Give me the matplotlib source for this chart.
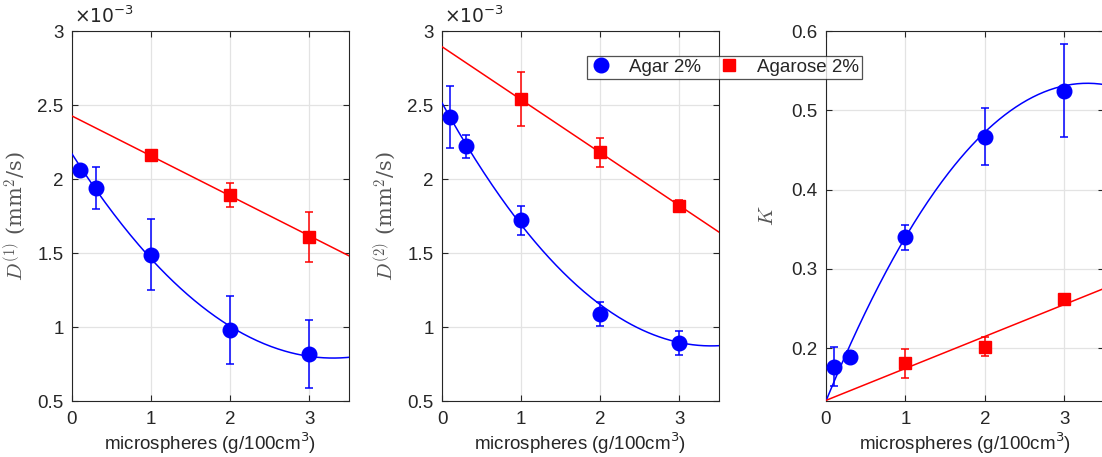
import numpy as np
import matplotlib
matplotlib.use("Agg")
from matplotlib import pyplot as plt
from matplotlib.lines import Line2D
from matplotlib.ticker import FuncFormatter

# data (D values in units of 1e-3 mm^2/s)
agar_x = [0.1, 0.3, 1, 2, 3]
agarose_x = [1, 2, 3]

d1_agar = [2.06, 1.94, 1.49, 0.98, 0.82]
d1_agar_err = [0.02, 0.14, 0.24, 0.23, 0.23]
d1_agarose = [2.16, 1.89, 1.61]
d1_agarose_err = [0.03, 0.08, 0.17]

d2_agar = [2.42, 2.22, 1.72, 1.09, 0.89]
d2_agar_err = [0.21, 0.075, 0.10, 0.08, 0.08]
d2_agarose = [2.54, 2.18, 1.82]
d2_agarose_err = [0.18, 0.10, 0.04]

k_agar = [0.177, 0.189, 0.340, 0.467, 0.525]
k_agar_err = [0.024, 0.008, 0.016, 0.036, 0.059]
k_agarose = [0.181, 0.202, 0.262]
k_agarose_err = [0.018, 0.012, 0.005]

# fitted polynomial coefficients (highest power first)
d1_agar_fit = [0.1267, -0.8362, 2.170]
d1_agarose_fit = [-0.27, 2.426]
d2_agar_fit = [0.142, -0.9656, 2.514]
d2_agarose_fit = [-0.358, 2.894]
k_agar_fit = [-0.037, 0.2435, 0.1335]
k_agarose_fit = [0.0403, 0.1343]

xlim = (0, 3.5)
fit_x = np.linspace(xlim[0], xlim[1], 200)

font = {"size": 13, "family": "Liberation Sans"}
matplotlib.rc("font", **font)
dark = "#262626"

fig = plt.figure(figsize=(11.02, 4.57), dpi=100)
ax01 = fig.add_axes([0.0653, 0.1225, 0.2514, 0.8096])
ax02 = fig.add_axes([0.4011, 0.1225, 0.2514, 0.8096])
ax03 = fig.add_axes([0.7495, 0.1225, 0.2523, 0.8096])

panels = [
    (ax01, d1_agar, d1_agar_err, d1_agarose, d1_agarose_err, d1_agar_fit, d1_agarose_fit),
    (ax02, d2_agar, d2_agar_err, d2_agarose, d2_agarose_err, d2_agar_fit, d2_agarose_fit),
    (ax03, k_agar, k_agar_err, k_agarose, k_agarose_err, k_agar_fit, k_agarose_fit),
]

for ax, ya, ea, yb, eb, fa, fb in panels:
    ax.plot(fit_x, np.polyval(fa, fit_x), "-", color="#0000ff", lw=1.1, zorder=3)
    ax.plot(fit_x, np.polyval(fb, fit_x), "-", color="#ff0000", lw=1.1, zorder=3)
    ax.errorbar(agar_x, ya, yerr=ea, fmt="o", color="#0000ff", ms=10.5,
                elinewidth=1.1, capsize=3, capthick=1.1, zorder=4)
    ax.errorbar(agarose_x, yb, yerr=eb, fmt="s", color="#ff0000", ms=8.5,
                elinewidth=1.1, capsize=3, capthick=1.1, zorder=4)
    ax.set_xlim(*xlim)
    ax.set_xticks([0, 1, 2, 3])
    ax.grid(True, color="#e3e3e3", lw=0.9)
    ax.set_axisbelow(True)
    ax.tick_params(direction="in", length=4, width=0.8, colors=dark,
                   top=True, right=True, labelsize=13.5)
    ax.tick_params(axis="x", pad=7)
    ax.tick_params(axis="y", pad=6)
    for s in ax.spines.values():
        s.set_color(dark)
        s.set_linewidth(0.8)
    ax.yaxis.set_major_formatter(FuncFormatter(lambda v, p: "%g" % round(v, 3)))
    ax.set_xlabel("microspheres (g/100cm$^3$)", color=dark, fontsize=13.5)
    ax.xaxis.set_label_coords(0.5, -0.08)

for ax in (ax01, ax02):
    ax.set_ylim(0.5, 3.0)
    ax.set_yticks([0.5, 1, 1.5, 2, 2.5, 3])
    ax.text(0.007, 1.012, r"$\times10^{-3}$", transform=ax.transAxes,
            fontsize=13.5, color=dark, va="bottom", ha="left",
            math_fontfamily="dejavusans")

ax03.set_ylim(0.1335, 0.6)
ax03.set_yticks([0.2, 0.3, 0.4, 0.5, 0.6])

ax01.set_ylabel(r"$D^{(1)}$ (mm$^2$/s)", color="#555555", fontsize=15,
                math_fontfamily="cm", family="DejaVu Serif")
ax02.set_ylabel(r"$D^{(2)}$ (mm$^2$/s)", color="#555555", fontsize=15,
                math_fontfamily="cm", family="DejaVu Serif")
ax03.set_ylabel(r"$K$", color="#555555", fontsize=15, math_fontfamily="cm")
ax01.yaxis.set_label_coords(-0.155, 0.5)
ax02.yaxis.set_label_coords(-0.155, 0.5)
ax03.yaxis.set_label_coords(-0.175, 0.5)

handles = [
    Line2D([], [], marker="o", color="#0000ff", ls="none", ms=10.5, label="Agar 2%"),
    Line2D([], [], marker="s", color="#ff0000", ls="none", ms=8.5, label="Agarose 2%"),
]
leg = fig.legend(handles=handles, loc="center", bbox_to_anchor=(0.6575, 0.853), ncol=2,
                 fontsize=13.5, frameon=True, fancybox=False, borderpad=0.15,
                 handlelength=1.2, handletextpad=0.9, columnspacing=0.9)
leg.get_frame().set_edgecolor(dark)
leg.get_frame().set_linewidth(0.9)
for t in leg.get_texts():
    t.set_color(dark)

fig.savefig("out.png", dpi=100)
